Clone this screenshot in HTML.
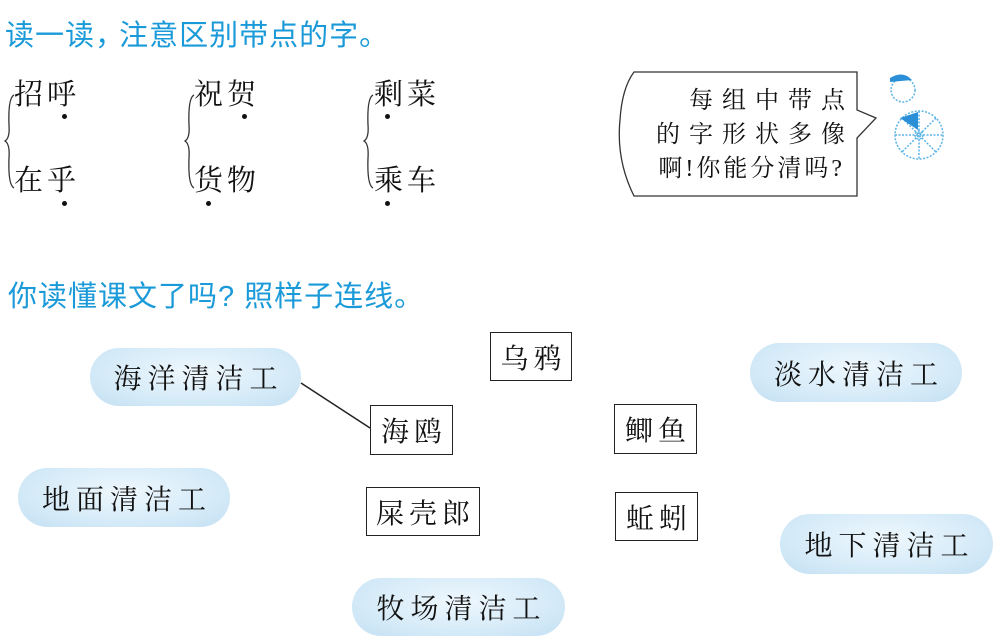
<!DOCTYPE html>
<html><head><meta charset="utf-8"><style>
*{margin:0;padding:0;box-sizing:border-box}
body{width:1000px;height:644px;background:#fff;position:relative;overflow:hidden;font-family:"Liberation Serif","Noto Serif CJK SC",serif;color:#111}
.a{position:absolute;white-space:nowrap}
.t{font-family:"Liberation Sans","Noto Sans CJK SC",sans-serif;color:#1a9ad8;font-size:29px;font-weight:400}
.w{font-size:29px;letter-spacing:4px}
.dot{position:absolute;width:5px;height:5px;border-radius:50%;background:#111}
.pill{position:absolute;border-radius:30px;background:radial-gradient(ellipse at 50% 40%,#eef7fd 0%,#d6ebf8 60%,#c3e0f3 100%);font-size:28px;letter-spacing:6px;display:flex;align-items:center;justify-content:center;padding-left:6px}
.box{position:absolute;border:1.5px solid #222;font-size:28px;letter-spacing:5px;display:flex;align-items:center;justify-content:center;padding-left:5px}
.b{font-size:24px;letter-spacing:9px}
</style></head><body>
<div class="a t" style="left:5px;top:12px;letter-spacing:1px">读一读<span style="letter-spacing:-14px">，</span>&nbsp;注意区别带点的字。</div>
<svg class="a" style="left:0;top:0" width="1000" height="644">
<g fill="none" stroke="#333" stroke-width="1.3">
<path d="M14 95 Q8 98 9 125 Q10 138 5 141 Q10 144 9 158 Q8 185 14 188"/>
<path d="M194 95 Q188 98 189 125 Q190 138 185 141 Q190 144 189 158 Q188 185 194 188"/>
<path d="M373 95 Q367 98 368 125 Q369 138 364 141 Q369 144 368 158 Q367 185 373 188"/>
<path d="M634 72 L857 72 L857 110 L876 118 L857 138 L857 196 L634 196 Q616 160 620 120 Q622 88 634 72 Z"/>
</g>
<line x1="301" y1="383" x2="370" y2="428" stroke="#222" stroke-width="1.5"/>
<g stroke="#5bb3e6" fill="none" stroke-width="1.5" stroke-dasharray="2 1.5">
<circle cx="919" cy="135" r="24"/><circle cx="919" cy="135" r="4"/>
<line x1="895" y1="135" x2="943" y2="135"/><line x1="919" y1="111" x2="919" y2="159"/>
<line x1="902" y1="118" x2="936" y2="152"/><line x1="936" y1="118" x2="902" y2="152"/>
<circle cx="903" cy="90" r="12"/>
</g>
<path d="M890 78 Q903 70 912 80 L890 82 Z" fill="#2a8fd6"/>
<path d="M900 118 L918 112 L918 130 Z" fill="#2a8fd6"/>
</svg>
<div class="a w" style="left:14px;top:72px">招呼</div><div class="dot" style="left:62px;top:114px"></div>
<div class="a w" style="left:14px;top:158px">在乎</div><div class="dot" style="left:62px;top:201px"></div>
<div class="a w" style="left:194px;top:72px">祝贺</div><div class="dot" style="left:242px;top:114px"></div>
<div class="a w" style="left:194px;top:158px">货物</div><div class="dot" style="left:206px;top:201px"></div>
<div class="a w" style="left:374px;top:72px">剩菜</div><div class="dot" style="left:385px;top:114px"></div>
<div class="a w" style="left:374px;top:158px">乘车</div><div class="dot" style="left:385px;top:201px"></div>
<div class="a b" style="right:146px;top:80px">每组中带点</div>
<div class="a b" style="right:146px;top:114px">的字形状多像</div>
<div class="a" style="right:155px;top:148px;font-size:24px;letter-spacing:3px">啊!你能分清吗?</div>
<div class="a t" style="left:8px;top:273px;letter-spacing:1px">你读懂课文了吗? 照样子连线。</div>
<div class="pill" style="left:90px;top:348px;width:211px;height:58px">海洋清洁工</div>
<div class="pill" style="left:18px;top:468px;width:212px;height:59px">地面清洁工</div>
<div class="pill" style="left:352px;top:578px;width:213px;height:58px">牧场清洁工</div>
<div class="pill" style="left:750px;top:343px;width:212px;height:59px">淡水清洁工</div>
<div class="pill" style="left:780px;top:514px;width:213px;height:60px">地下清洁工</div>
<div class="box" style="left:490px;top:332px;width:82px;height:49px">乌鸦</div>
<div class="box" style="left:370px;top:405px;width:83px;height:50px">海鸥</div>
<div class="box" style="left:366px;top:487px;width:114px;height:49px">屎壳郎</div>
<div class="box" style="left:614px;top:404px;width:83px;height:50px">鲫鱼</div>
<div class="box" style="left:615px;top:492px;width:83px;height:49px">蚯蚓</div>
</body></html>
